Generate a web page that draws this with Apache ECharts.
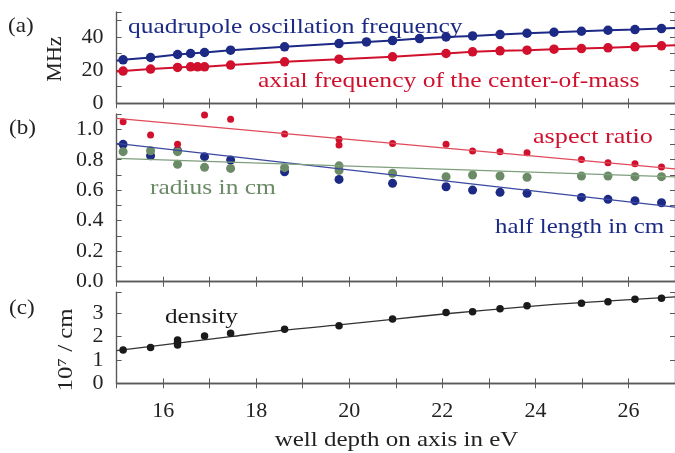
<!DOCTYPE html>
<html><head><meta charset="utf-8">
<script src="https://cdn.jsdelivr.net/npm/echarts@6/dist/echarts.min.js"></script>
<style>html,body{margin:0;padding:0;background:#fff}#c{width:675px;height:453px}</style>
</head><body><div id="c"></div>
<script>
// ---- Panel (a): frequencies (MHz) ----
const xQuad = [15.14,15.73,16.31,16.59,16.89,17.45,18.61,19.78,20.37,20.93,21.51,22.08,22.65,23.24,23.82,24.40,24.99,25.56,26.14,26.71];
const quadFreq = [26.2,27.6,29.4,30.0,30.6,32.0,34.0,36.0,37.0,37.8,39.0,40.0,40.6,41.4,42.2,42.8,43.4,44.0,44.4,45.0];
const quadEdge = [25.7,45.3];
const xAxial = [15.14,15.73,16.31,16.59,16.74,16.89,17.45,18.61,19.78,20.93,22.08,22.65,23.24,23.82,24.40,24.99,25.56,26.14,26.71];
const axialFreq = [19.4,20.6,21.6,22.0,22.0,22.0,23.0,25.0,26.6,28.0,30.0,31.0,31.6,32.0,32.6,33.0,33.4,34.0,34.6];
const axialEdge = [19.1,34.9];

// ---- Panel (b) ----
const xAspect = [15.14,15.73,16.31,16.89,17.45,18.61,19.78,19.78,20.93,22.08,22.65,23.24,23.82,24.99,25.56,26.14,26.71];
const aspectRatio = [1.049,0.962,0.901,1.093,1.065,0.968,0.934,0.896,0.907,0.901,0.857,0.853,0.846,0.802,0.780,0.774,0.752];
const aspectFit = [1.071,0.740];
const xHalf = [15.14,15.73,16.31,16.89,17.45,18.61,19.78,20.93,22.08,22.65,23.24,23.82,24.99,25.56,26.14,26.71];
const halfLength = [0.901,0.826,0.860,0.820,0.798,0.721,0.671,0.645,0.623,0.601,0.586,0.580,0.553,0.540,0.531,0.518];
const halfFit = [0.907,0.489];
const xRadius = [15.14,15.73,16.31,16.31,16.89,17.45,18.61,19.78,19.78,20.93,22.08,22.65,23.24,23.82,24.99,25.56,26.14,26.71];
const radius = [0.853,0.859,0.853,0.770,0.750,0.743,0.748,0.760,0.730,0.711,0.689,0.700,0.693,0.685,0.693,0.693,0.689,0.689];
const radiusFit = [0.809,0.688];
const fitX = [15,27];

// ---- Panel (c): density ----
const xDensity = [15.14,15.73,16.31,16.31,16.31,16.89,17.45,18.61,19.78,20.93,22.08,22.65,23.24,23.82,24.99,25.56,26.14,26.71];
const density = [1.43,1.53,1.86,1.76,1.64,2.03,2.14,2.32,2.47,2.76,3.03,3.07,3.19,3.32,3.43,3.50,3.60,3.65];
const densityFitX = [15,16.31,17.45,18.61,19.78,20.93,22.08,23.82,24.99,27];
const densityFitY = [1.40,1.72,2.00,2.28,2.50,2.74,2.98,3.29,3.46,3.70];

const xTickLabels = [16,18,20,22,24,26];

const NAVY = '#1c2a86', RED = '#d0102c', GREEN = '#6b8a66', BLACK = '#1a1a1a';
const FONT = 'Liberation Serif';
const pairs = (xs, ys) => xs.map((x, i) => [x, ys[i]]);

const L = 116.6, W = 560.4;
const grids = [
  {left: L, top: 12, width: W, height: 91.3},
  {left: L, top: 114, width: W, height: 167.7},
  {left: L, top: 292.3, width: W, height: 91}
];
const frame = {show: true, lineStyle: {color: '#5a5a5a', width: 1.4}};
const tick = {show: true, inside: true, length: 5, lineStyle: {color: '#5a5a5a', width: 1}};
const lab = {color: '#222', fontFamily: FONT, fontSize: 22};

const xAxes = [], yAxes = [];
for (let g = 0; g < 3; g++) {
  xAxes.push({type: 'value', gridIndex: g, position: 'bottom', min: 15, max: 27, interval: 1,
    axisLine: frame, axisTick: tick, splitLine: {show: false},
    axisLabel: g === 2 ? Object.assign({}, lab, {margin: 17, showMinLabel: false, showMaxLabel: false,
      formatter: v => xTickLabels.indexOf(Math.round(v)) >= 0 && Math.abs(v - Math.round(v)) < 1e-6 ? String(Math.round(v)) : ''}) : {show: false}});
  xAxes.push({type: 'value', gridIndex: g, position: 'top', min: 15, max: 27, interval: 1,
    axisLine: frame, axisTick: tick, splitLine: {show: false}, axisLabel: {show: false}});
}
const yCfg = [
  {min: 0, max: 55, interval: 10, fmt: v => (Math.abs(v % 20) < 1e-6 ? String(v) : '')},
  {min: 0, max: 1.1, interval: 0.1, fmt: v => { const t = v * 10; return (Math.abs(t - Math.round(t)) < 1e-6 && Math.round(t) % 2 === 0) ? v.toFixed(1) : ''; }},
  {min: 0, max: 3.9, interval: 1, fmt: v => (Math.abs(v - Math.round(v)) < 1e-6 ? String(Math.round(v)) : '')}
];
for (let g = 0; g < 3; g++) {
  const c = yCfg[g];
  yAxes.push({type: 'value', gridIndex: g, position: 'left', min: c.min, max: c.max, interval: c.interval,
    axisLine: frame, axisTick: tick, splitLine: {show: false},
    axisLabel: Object.assign({}, lab, {margin: 13, formatter: c.fmt})});
  yAxes.push({type: 'value', gridIndex: g, position: 'right', min: c.min, max: c.max, interval: c.interval,
    axisLine: frame, axisTick: tick, splitLine: {show: false}, axisLabel: {show: false}});
}

const series = [
  // panel (a)
  {type: 'line', xAxisIndex: 0, yAxisIndex: 0, data: [[15, quadEdge[0]]].concat(pairs(xQuad, quadFreq), [[27, quadEdge[1]]]),
    showSymbol: false, symbol: 'none', lineStyle: {color: NAVY, width: 2}, z: 2},
  {type: 'scatter', xAxisIndex: 0, yAxisIndex: 0, data: pairs(xQuad, quadFreq), symbolSize: 9.5, itemStyle: {color: NAVY, opacity: 1}, z: 3},
  {type: 'line', xAxisIndex: 0, yAxisIndex: 0, data: [[15, axialEdge[0]]].concat(pairs(xAxial, axialFreq), [[27, axialEdge[1]]]),
    showSymbol: false, symbol: 'none', lineStyle: {color: RED, width: 2}, z: 2},
  {type: 'scatter', xAxisIndex: 0, yAxisIndex: 0, data: pairs(xAxial, axialFreq), symbolSize: 9.5, itemStyle: {color: RED, opacity: 1}, z: 3},
  // panel (b)
  {type: 'scatter', xAxisIndex: 2, yAxisIndex: 2, data: pairs(xHalf, halfLength), symbolSize: 9, itemStyle: {color: NAVY, opacity: 1}, z: 3, clip: false},
  {type: 'scatter', xAxisIndex: 2, yAxisIndex: 2, data: pairs(xRadius, radius), symbolSize: 9, itemStyle: {color: GREEN, opacity: 1}, z: 3, clip: false},
  {type: 'scatter', xAxisIndex: 2, yAxisIndex: 2, data: pairs(xAspect, aspectRatio), symbolSize: 7, itemStyle: {color: RED, opacity: 1}, z: 3, clip: false},
  {type: 'line', xAxisIndex: 2, yAxisIndex: 2, data: pairs(fitX, aspectFit), symbol: 'none', lineStyle: {color: '#e04a5a', width: 1.2}, z: 4},
  {type: 'line', xAxisIndex: 2, yAxisIndex: 2, data: pairs(fitX, halfFit), symbol: 'none', lineStyle: {color: '#3a48a0', width: 1.2}, z: 4},
  {type: 'line', xAxisIndex: 2, yAxisIndex: 2, data: pairs(fitX, radiusFit), symbol: 'none', lineStyle: {color: '#7f9f7c', width: 1.2}, z: 4},
  // panel (c)
  {type: 'line', xAxisIndex: 4, yAxisIndex: 4, data: pairs(densityFitX, densityFitY), symbol: 'none', smooth: 0.3, lineStyle: {color: '#333', width: 1.3}, z: 2},
  {type: 'scatter', xAxisIndex: 4, yAxisIndex: 4, data: pairs(xDensity, density), symbolSize: 7.5, itemStyle: {color: BLACK, opacity: 1}, z: 3}
];

const txt = (x, y, s, color, size, sx, align) => ({type: 'text', x: x, y: y, scaleX: sx || 1, z: 10,
  style: {text: s, fill: color, font: size + 'px "' + FONT + '"', textAlign: align || 'left', textVerticalAlign: 'middle'}});

const graphic = [
  txt(8, 26, '(a)', '#222', 22, 1.05),
  txt(9, 128, '(b)', '#222', 22, 1.05),
  txt(9, 308, '(c)', '#222', 22, 1.05),
  {type: 'text', x: 55, y: 59, rotation: Math.PI / 2, scaleX: 1.05, z: 10, style: {text: 'MHz', fill: '#222', font: '21px "' + FONT + '"', textAlign: 'center', textVerticalAlign: 'middle'}},
  {type: 'text', x: 66, y: 350, rotation: Math.PI / 2, scaleX: 1.18, z: 10, style: {text: '10⁷ / cm', fill: '#222', font: '21px "' + FONT + '"', textAlign: 'center', textVerticalAlign: 'middle'}},
  txt(128, 27, 'quadrupole oscillation frequency', NAVY, 22, 1.155),
  txt(258, 81, 'axial frequency of the center-of-mass', RED, 22, 1.162),
  txt(533, 137, 'aspect ratio', RED, 22, 1.19),
  txt(150, 188, 'radius in cm', GREEN, 22, 1.157),
  txt(495, 227, 'half length in cm', NAVY, 22, 1.13),
  txt(165, 317, 'density', BLACK, 21, 1.2),
  txt(396.5, 440, 'well depth on axis in eV', '#222', 21, 1.19, 'center')
];

const chart = echarts.init(document.getElementById('c'), null, {renderer: 'canvas'});
chart.setOption({animation: false, grid: grids, xAxis: xAxes, yAxis: yAxes, series: series, graphic: graphic});
</script></body></html>
